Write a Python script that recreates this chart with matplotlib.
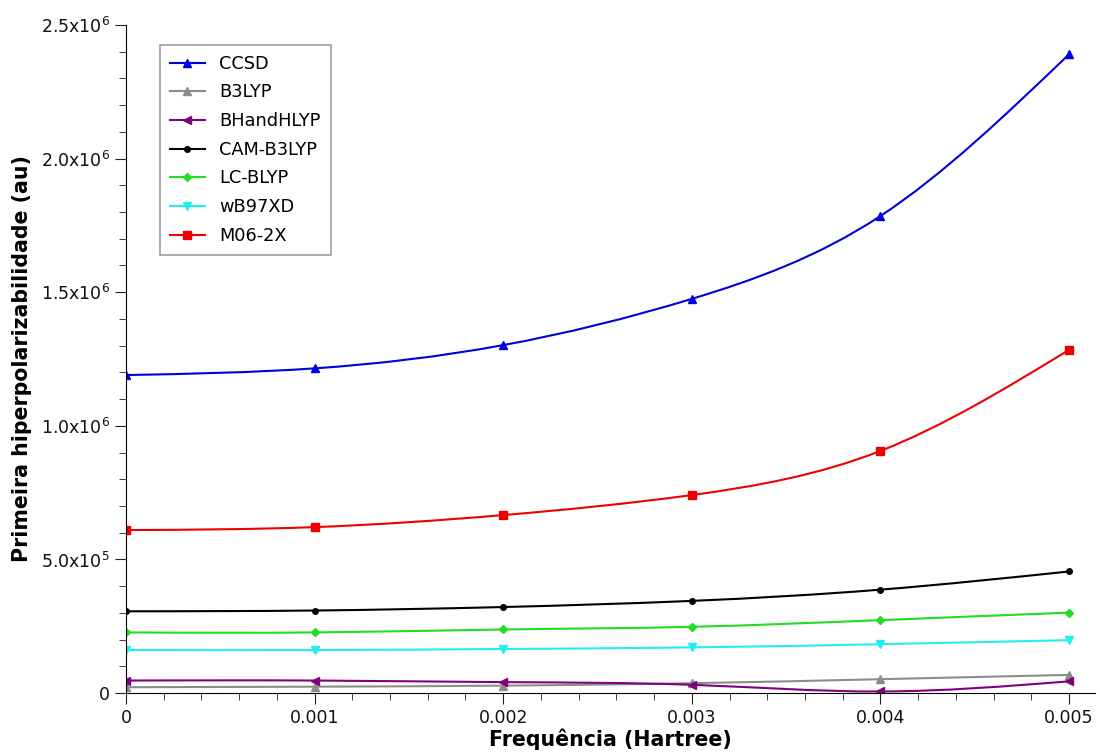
import numpy as np
import matplotlib.pyplot as plt
from matplotlib.path import Path
from matplotlib.patches import PathPatch
from matplotlib.ticker import MultipleLocator, FixedLocator, FixedFormatter

# frequency (Hartree) and first hyperpolarizability (au)
freq = [0.0, 0.001, 0.002, 0.003, 0.004, 0.005]

ccsd = [1.190e6, 1.215e6, 1.302e6, 1.475e6, 1.785e6, 2.390e6]
b3lyp = [0.022e6, 0.024e6, 0.028e6, 0.037e6, 0.052e6, 0.068e6]
bhandhlyp = [0.047e6, 0.047e6, 0.041e6, 0.031e6, 0.006e6, 0.044e6]
cam_b3lyp = [0.306e6, 0.309e6, 0.322e6, 0.345e6, 0.387e6, 0.455e6]
lc_blyp = [0.227e6, 0.227e6, 0.238e6, 0.248e6, 0.273e6, 0.301e6]
wb97xd = [0.161e6, 0.161e6, 0.165e6, 0.171e6, 0.183e6, 0.198e6]
m06_2x = [0.610e6, 0.621e6, 0.666e6, 0.741e6, 0.906e6, 1.284e6]

labels = ['CCSD', 'B3LYP', 'BHandHLYP', 'CAM-B3LYP', 'LC-BLYP', 'wB97XD', 'M06-2X']
series = [ccsd, b3lyp, bhandhlyp, cam_b3lyp, lc_blyp, wb97xd, m06_2x]
colors = ['#0000dd', '#8c8c8c', '#800080', '#000000', '#22dd22', '#22eeee', '#ee0000']
markers = ['^', '^', '<', 'o', 'D', 'v', 's']
msizes = [6, 6, 6, 4, 4, 6, 6]

ytick_vals = [0, 5e5, 1e6, 1.5e6, 2e6, 2.5e6]
ytick_text = ['0', r'5.0x10$^5$', r'1.0x10$^6$', r'1.5x10$^6$', r'2.0x10$^6$', r'2.5x10$^6$']
xtick_text = ['0', '0.001', '0.002', '0.003', '0.004', '0.005']

plt.rcParams['font.family'] = ['DejaVu Sans']
plt.rcParams['mathtext.default'] = 'regular'


def smooth_path(x, y):
  # natural cubic spline through the data points (uniform spacing), as Bezier segments
  x = np.asarray(x, float)
  y = np.asarray(y, float)
  n = len(x)
  h = x[1] - x[0]
  A = np.zeros((n, n))
  b = np.zeros(n)
  A[0, 0] = A[-1, -1] = 1
  for i in range(1, n - 1):
    A[i, i - 1:i + 2] = [1, 4, 1]
    b[i] = 6 * (y[i + 1] - 2 * y[i] + y[i - 1]) / h**2
  M = np.linalg.solve(A, b)
  verts = [(x[0], y[0])]
  codes = [Path.MOVETO]
  for i in range(n - 1):
    s = (y[i + 1] - y[i]) / h
    d0 = s - h * (2 * M[i] + M[i + 1]) / 6
    d1 = s + h * (M[i] + 2 * M[i + 1]) / 6
    verts += [(x[i] + h / 3, y[i] + d0 * h / 3),
              (x[i + 1] - h / 3, y[i + 1] - d1 * h / 3),
              (x[i + 1], y[i + 1])]
    codes += [Path.CURVE4] * 3
  return Path(verts, codes)


fig = plt.figure(figsize=(11, 7.55), dpi=100)
ax = fig.add_axes([0.1145, 0.082, 0.881, 0.885])

for vals, lab, col, mk, ms in zip(series, labels, colors, markers, msizes):
  ax.add_patch(PathPatch(smooth_path(freq, vals), facecolor='none', edgecolor=col, lw=1.5))
  ax.plot(freq, vals, linestyle='none', marker=mk, ms=ms, color=col)
  ax.plot([], [], color=col, lw=1.5, marker=mk, ms=ms, label=lab)

ax.set_xlim(0, 0.005138)
ax.set_ylim(0, 2.5e6)

ax.xaxis.set_major_locator(FixedLocator(freq))
ax.xaxis.set_major_formatter(FixedFormatter(xtick_text))
ax.xaxis.set_minor_locator(MultipleLocator(0.0002))
ax.yaxis.set_major_locator(FixedLocator(ytick_vals))
ax.yaxis.set_major_formatter(FixedFormatter(ytick_text))
ax.yaxis.set_minor_locator(MultipleLocator(1e5))

ax.spines['top'].set_visible(False)
ax.spines['right'].set_visible(False)
ax.tick_params(which='major', direction='out', length=8, labelsize=12.5, color='#222222', labelcolor='#111111')
ax.tick_params(which='minor', direction='out', length=5, color='#222222')

ax.set_xlabel('Frequência (Hartree)', fontsize=14.8, fontweight='bold', labelpad=1)
ax.set_ylabel('Primeira hiperpolarizabilidade (au)', fontsize=14.8, fontweight='bold', labelpad=6)

leg = ax.legend(loc='upper left', bbox_to_anchor=(0.035, 0.97), borderaxespad=0, fontsize=12.8,
                frameon=True, fancybox=False, edgecolor='#888888', handlelength=2.0,
                handletextpad=0.8, labelspacing=0.6, borderpad=0.55)
leg.get_frame().set_linewidth(1.2)

fig.savefig('out.png', dpi=100)
